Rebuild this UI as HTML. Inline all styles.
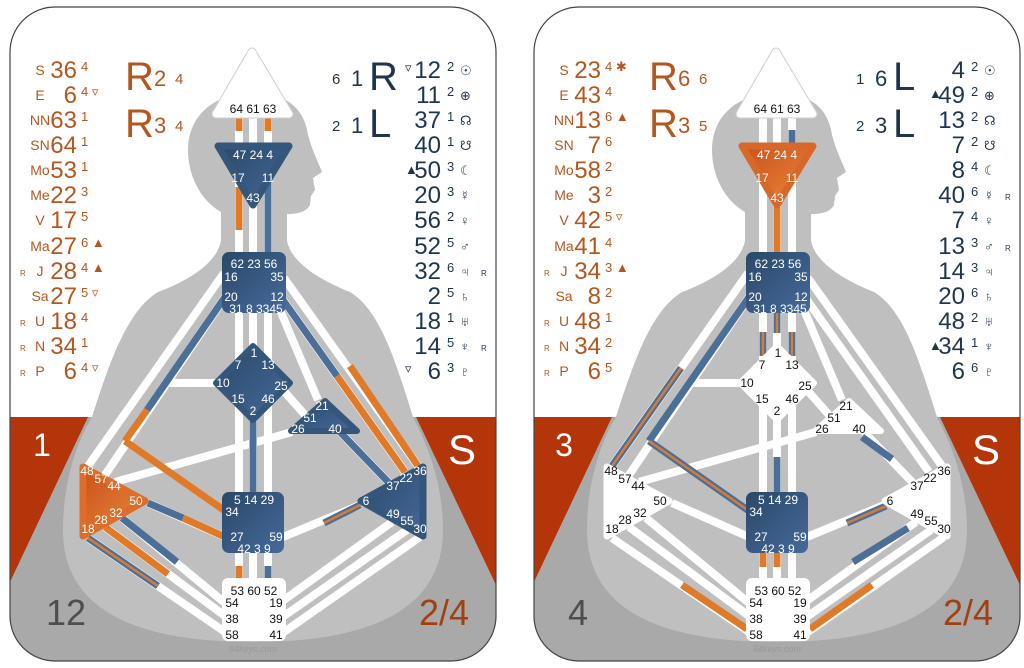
<!DOCTYPE html>
<html><head><meta charset="utf-8"><style>
html,body{margin:0;padding:0;background:#fff;}
svg{display:block;}
.w{stroke:#fff;stroke-width:8;fill:none}
.b{stroke:#4b6f97;stroke-width:7;fill:none}
.o{stroke:#e07a28;stroke-width:7;fill:none}
.so{stroke:#d97a35;stroke-width:2.5;fill:none}
.ct{font-family:"Liberation Sans","DejaVu Sans",sans-serif;font-size:12px;fill:#fff;text-anchor:middle}
.ck{font-family:"Liberation Sans","DejaVu Sans",sans-serif;font-size:12px;fill:#111;text-anchor:middle}
.lp{font-family:"Liberation Sans","DejaVu Sans",sans-serif;fill:#b5561e}
.rp{font-family:"Liberation Sans","DejaVu Sans",sans-serif;fill:#1e3550}
.lab{font-size:14px;text-anchor:middle}
.num{font-size:24px;text-anchor:end}
.sup{font-size:13px}
.tiny{font-size:8px}
.big{font-size:40px}
.mid{font-size:22px}
.sm{font-size:15px}
</style></head><body>
<svg width="1024" height="668" viewBox="0 0 1024 668" xmlns="http://www.w3.org/2000/svg">
<defs>
<linearGradient id="bl" x1="0" y1="0" x2="1" y2="1">
<stop offset="0" stop-color="#2a4868"/><stop offset="1" stop-color="#45699a"/></linearGradient>
<linearGradient id="og" x1="0" y1="0" x2="1" y2="1">
<stop offset="0" stop-color="#c9501a"/><stop offset="1" stop-color="#ea8a3c"/></linearGradient>
<clipPath id="card"><rect x="10" y="7" width="486" height="654" rx="45"/></clipPath>
</defs>

<g id="c1">
<g clip-path="url(#card)">
<rect x="10" y="7" width="486" height="654" fill="#fff"/>
<rect x="10" y="417" width="486" height="250" fill="#b5350b"/>
<path d="M88,417 L416,417 L496,585 L496,670 L10,670 L10,582 Z" fill="#a9a9a9"/>
<path d="M253,93 C290,93 305,112 308,135 C312,150 318,162 322,172 L313,178 L315,190 L311,196 L310,205 C306,213 295,214 287,214 L287,240 C290,262 320,280 350,292 C380,310 395,360 413,417 C425,440 443,480 443,530 C443,610 370,642 253,642 C136,642 63,610 63,530 C63,480 78,440 92,417 C110,360 128,310 158,292 C190,280 218,262 221,240 L221,212 C200,200 188,175 188,150 C188,115 215,93 253,93 Z" fill="#bfbfbf"/>
</g>
<rect x="10" y="7" width="486" height="654" rx="45" fill="none" stroke="#444" stroke-width="1.2"/>
</g>

<g id="c2" transform="translate(524,0)">
<g clip-path="url(#card)">
<rect x="10" y="7" width="486" height="654" fill="#fff"/>
<rect x="10" y="417" width="486" height="250" fill="#b5350b"/>
<path d="M88,417 L416,417 L496,585 L496,670 L10,670 L10,582 Z" fill="#a9a9a9"/>
<path d="M253,93 C290,93 305,112 308,135 C312,150 318,162 322,172 L313,178 L315,190 L311,196 L310,205 C306,213 295,214 287,214 L287,240 C290,262 320,280 350,292 C380,310 395,360 413,417 C425,440 443,480 443,530 C443,610 370,642 253,642 C136,642 63,610 63,530 C63,480 78,440 92,417 C110,360 128,310 158,292 C190,280 218,262 221,240 L221,212 C200,200 188,175 188,150 C188,115 215,93 253,93 Z" fill="#bfbfbf"/>
</g>
<rect x="10" y="7" width="486" height="654" rx="45" fill="none" stroke="#444" stroke-width="1.2"/>
</g>

<g id="wb">
<line class="w" x1="239" y1="117" x2="239" y2="580"/>
<line class="w" x1="253" y1="117" x2="253" y2="580"/>
<line class="w" x1="268" y1="117" x2="268" y2="580"/>
<line class="w" x1="224" y1="273" x2="88" y2="466"/>
<line class="w" x1="225" y1="297" x2="103" y2="478"/>
<line class="w" x1="168" y1="383" x2="215" y2="383"/>
<line class="w" x1="115" y1="482" x2="292" y2="432"/>
<line class="w" x1="148" y1="503" x2="225" y2="537"/>
<line class="w" x1="122" y1="518" x2="225" y2="603"/>
<line class="w" x1="105" y1="527" x2="225" y2="616"/>
<line class="w" x1="88" y1="538" x2="225" y2="632"/>
<line class="w" x1="284" y1="278" x2="418" y2="466"/>
<line class="w" x1="283" y1="300" x2="405" y2="472"/>
<line class="w" x1="280" y1="310" x2="318" y2="400"/>
<line class="w" x1="283" y1="390" x2="305" y2="415"/>
<line class="w" x1="340" y1="432" x2="392" y2="486"/>
<line class="w" x1="283" y1="537" x2="360" y2="505"/>
<line class="w" x1="392" y1="522" x2="284" y2="600"/>
<line class="w" x1="407" y1="530" x2="284" y2="616"/>
<line class="w" x1="420" y1="537" x2="284" y2="632"/>
</g>
<use href="#wb" transform="translate(524,0)"/>

<line class="o" x1="239" y1="117" x2="239" y2="131"/>
<line class="o" x1="268" y1="117" x2="268" y2="131"/>
<line class="o" x1="239" y1="187" x2="239" y2="230"/>
<line class="b" x1="268" y1="180" x2="268" y2="252"/>
<line class="b" x1="253" y1="415" x2="253" y2="494"/>
<line class="o" x1="239" y1="566" x2="239" y2="580"/>
<line class="b" x1="268" y1="566" x2="268" y2="580"/>
<line class="b" x1="225" y1="297" x2="147" y2="410"/>
<line class="o" x1="147" y1="410" x2="125" y2="441"/>
<line class="o" x1="125" y1="441" x2="225" y2="511"/>
<line class="b" x1="148" y1="503" x2="183" y2="518"/>
<line class="o" x1="183" y1="518" x2="225" y2="537"/>
<line class="b" x1="122" y1="518" x2="177" y2="562"/>
<line class="o" x1="105" y1="527" x2="168" y2="574"/>
<line class="b" x1="88" y1="538" x2="158" y2="586"/><line class="so" x1="88" y1="538" x2="158" y2="586"/>
<line class="o" x1="350" y1="366" x2="418" y2="466"/>
<line class="b" x1="283" y1="300" x2="337" y2="376"/>
<line class="o" x1="337" y1="376" x2="405" y2="472"/>
<line class="b" x1="340" y1="432" x2="392" y2="486"/>
<line class="b" x1="324" y1="523" x2="360" y2="505"/><line class="so" x1="324" y1="523" x2="360" y2="505"/>

<g transform="translate(524,0)">
<line class="b" x1="268" y1="130" x2="268" y2="143"/>
<line class="o" x1="253" y1="205" x2="253" y2="252"/>
<line class="b" x1="239" y1="332" x2="239" y2="356"/><line class="so" x1="239" y1="332" x2="239" y2="356"/>
<line class="b" x1="253" y1="313" x2="253" y2="333"/><line class="so" x1="253" y1="313" x2="253" y2="333"/>
<line class="b" x1="268" y1="332" x2="268" y2="356"/><line class="so" x1="268" y1="332" x2="268" y2="356"/>
<line class="b" x1="253" y1="457" x2="253" y2="494"/>
<line class="o" x1="239" y1="553" x2="239" y2="567"/>
<line class="o" x1="253" y1="553" x2="253" y2="567"/>
<line class="b" x1="157" y1="368" x2="88" y2="466"/><line class="so" x1="157" y1="368" x2="88" y2="466"/>
<line class="b" x1="225" y1="297" x2="125" y2="441"/>
<line class="b" x1="125" y1="441" x2="225" y2="511"/><line class="so" x1="125" y1="441" x2="225" y2="511"/>
<line class="b" x1="338" y1="437" x2="368" y2="459"/>
<line class="b" x1="323" y1="523" x2="362" y2="506"/><line class="so" x1="323" y1="523" x2="362" y2="506"/>
<line class="b" x1="384" y1="528" x2="329" y2="562"/>
<line class="o" x1="158" y1="585" x2="223" y2="629"/>
<line class="o" x1="348" y1="585" x2="286" y2="629"/>
</g>

<g stroke-linejoin="round">
<polygon points="252,52 289,114 216,114" fill="#fff" stroke="#cfcfcf" stroke-width="9"/>
<polygon points="252,52 289,114 216,114" fill="#fff" stroke="#fff" stroke-width="7"/>
<polygon points="218,146 289,146 253,205" fill="url(#bl)" stroke="#34567a" stroke-width="7"/>
<rect x="222" y="252" width="64" height="61" rx="7" fill="url(#bl)"/>
<polygon points="253,346 290,383 253,420 216,383" fill="url(#bl)" stroke="#34567a" stroke-width="6"/>
<polygon points="325,401 291,431 357,431" fill="url(#bl)" stroke="#34567a" stroke-width="6"/>
<polygon points="83,467 83,536 145,501" fill="url(#og)" stroke="#dc6d2a" stroke-width="7"/>
<polygon points="423,467 423,536 361,501" fill="url(#bl)" stroke="#34567a" stroke-width="7"/>
<rect x="222" y="492" width="62" height="61" rx="7" fill="url(#bl)"/>
<rect x="222" y="578" width="64" height="63" rx="6" fill="#fff"/>
</g>
<g transform="translate(524,0)" stroke-linejoin="round">
<polygon points="252,52 289,114 216,114" fill="#fff" stroke="#cfcfcf" stroke-width="9"/>
<polygon points="252,52 289,114 216,114" fill="#fff" stroke="#fff" stroke-width="7"/>
<polygon points="218,146 289,146 253,205" fill="url(#og)" stroke="#d8682a" stroke-width="7"/>
<rect x="222" y="252" width="64" height="61" rx="7" fill="url(#bl)"/>
<polygon points="253,346 290,383 253,420 216,383" fill="#fff" stroke="#fff" stroke-width="6"/>
<polygon points="325,401 291,431 357,431" fill="#fff" stroke="#fff" stroke-width="6"/>
<polygon points="83,467 83,536 145,501" fill="#fff" stroke="#fff" stroke-width="7"/>
<polygon points="423,467 423,536 361,501" fill="#fff" stroke="#fff" stroke-width="7"/>
<rect x="222" y="492" width="62" height="61" rx="7" fill="url(#bl)"/>
<rect x="222" y="578" width="64" height="63" rx="6" fill="#fff"/>
</g>

<g>
<text class="ck" x="253" y="113">64 61 63</text>
<text class="ct" x="253" y="159">47 24 4</text>
<text class="ct" x="238" y="182">17</text><text class="ct" x="268" y="182">11</text>
<text class="ct" x="253" y="202">43</text>
<text class="ct" x="254" y="268">62 23 56</text>
<text class="ct" x="231" y="281">16</text><text class="ct" x="277" y="281">35</text>
<text class="ct" x="231" y="301">20</text><text class="ct" x="277" y="301">12</text>
<text class="ct" x="256" y="313">31 8 3345</text>
<text class="ct" x="254" y="504">5 14 29</text>
<text class="ct" x="232" y="516">34</text>
<text class="ct" x="237" y="541">27</text><text class="ct" x="276" y="541">59</text>
<text class="ct" x="254" y="553">42 3 9</text>
<text class="ck" x="254" y="595">53 60 52</text>
<text class="ck" x="232" y="607">54</text><text class="ck" x="276" y="607">19</text>
<text class="ck" x="232" y="623">38</text><text class="ck" x="276" y="623">39</text>
<text class="ck" x="232" y="639">58</text><text class="ck" x="276" y="639">41</text>
<text x="253" y="652" font-family="Liberation Sans,sans-serif" font-size="9" font-style="italic" fill="#999" text-anchor="middle">64keys.com</text>
<text class="ct" x="254" y="357">1</text>
<text class="ct" x="238" y="369">7</text><text class="ct" x="268" y="369">13</text>
<text class="ct" x="223" y="387">10</text><text class="ct" x="281" y="390">25</text>
<text class="ct" x="238" y="403">15</text><text class="ct" x="268" y="403">46</text>
<text class="ct" x="253" y="415">2</text>
<text class="ct" x="322" y="410">21</text><text class="ct" x="310" y="422">51</text>
<text class="ct" x="298" y="433">26</text><text class="ct" x="335" y="433">40</text>
<text class="ct" x="87" y="475">48</text><text class="ct" x="101" y="483">57</text><text class="ct" x="114" y="490">44</text>
<text class="ct" x="136" y="505">50</text><text class="ct" x="116" y="517">32</text>
<text class="ct" x="101" y="524">28</text><text class="ct" x="88" y="533">18</text>
<text class="ct" x="420" y="475">36</text><text class="ct" x="406" y="482">22</text><text class="ct" x="393" y="490">37</text>
<text class="ct" x="366" y="505">6</text>
<text class="ct" x="393" y="518">49</text><text class="ct" x="407" y="525">55</text><text class="ct" x="420" y="533">30</text>
</g>
<g transform="translate(524,0)">
<text class="ck" x="253" y="113">64 61 63</text>
<text class="ct" x="253" y="159">47 24 4</text>
<text class="ct" x="238" y="182">17</text><text class="ct" x="268" y="182">11</text>
<text class="ct" x="253" y="202">43</text>
<text class="ct" x="254" y="268">62 23 56</text>
<text class="ct" x="231" y="281">16</text><text class="ct" x="277" y="281">35</text>
<text class="ct" x="231" y="301">20</text><text class="ct" x="277" y="301">12</text>
<text class="ct" x="256" y="313">31 8 3345</text>
<text class="ct" x="254" y="504">5 14 29</text>
<text class="ct" x="232" y="516">34</text>
<text class="ct" x="237" y="541">27</text><text class="ct" x="276" y="541">59</text>
<text class="ct" x="254" y="553">42 3 9</text>
<text class="ck" x="254" y="595">53 60 52</text>
<text class="ck" x="232" y="607">54</text><text class="ck" x="276" y="607">19</text>
<text class="ck" x="232" y="623">38</text><text class="ck" x="276" y="623">39</text>
<text class="ck" x="232" y="639">58</text><text class="ck" x="276" y="639">41</text>
<text x="253" y="652" font-family="Liberation Sans,sans-serif" font-size="9" font-style="italic" fill="#999" text-anchor="middle">64keys.com</text>
<text class="ck" x="254" y="357">1</text>
<text class="ck" x="238" y="369">7</text><text class="ck" x="268" y="369">13</text>
<text class="ck" x="223" y="387">10</text><text class="ck" x="281" y="390">25</text>
<text class="ck" x="238" y="403">15</text><text class="ck" x="268" y="403">46</text>
<text class="ck" x="253" y="415">2</text>
<text class="ck" x="322" y="410">21</text><text class="ck" x="310" y="422">51</text>
<text class="ck" x="298" y="433">26</text><text class="ck" x="335" y="433">40</text>
<text class="ck" x="87" y="475">48</text><text class="ck" x="101" y="483">57</text><text class="ck" x="114" y="490">44</text>
<text class="ck" x="136" y="505">50</text><text class="ck" x="116" y="517">32</text>
<text class="ck" x="101" y="524">28</text><text class="ck" x="88" y="533">18</text>
<text class="ck" x="420" y="475">36</text><text class="ck" x="406" y="482">22</text><text class="ck" x="393" y="490">37</text>
<text class="ck" x="366" y="505">6</text>
<text class="ck" x="393" y="518">49</text><text class="ck" x="407" y="525">55</text><text class="ck" x="420" y="533">30</text>
</g>

<g class="lp">
<text class="lab" x="40" y="75">S</text><text class="num" x="77" y="78">36</text><text class="sup" x="81" y="71">4</text>
<text class="lab" x="40" y="100">E</text><text class="num" x="77" y="103">6</text><text class="sup" x="81" y="96">4 ▿</text>
<text class="lab" x="40" y="125">NN</text><text class="num" x="77" y="128">63</text><text class="sup" x="81" y="121">1</text>
<text class="lab" x="40" y="150">SN</text><text class="num" x="77" y="153">64</text><text class="sup" x="81" y="146">1</text>
<text class="lab" x="40" y="175">Mo</text><text class="num" x="77" y="178">53</text><text class="sup" x="81" y="171">1</text>
<text class="lab" x="40" y="200">Me</text><text class="num" x="77" y="203">22</text><text class="sup" x="81" y="196">3</text>
<text class="lab" x="40" y="225">V</text><text class="num" x="77" y="228">17</text><text class="sup" x="81" y="221">5</text>
<text class="lab" x="40" y="251">Ma</text><text class="num" x="77" y="254">27</text><text class="sup" x="81" y="247">6 ▲</text>
<text class="tiny" x="20" y="276">R</text><text class="lab" x="40" y="276">J</text><text class="num" x="77" y="279">28</text><text class="sup" x="81" y="272">4 ▲</text>
<text class="lab" x="40" y="301">Sa</text><text class="num" x="77" y="304">27</text><text class="sup" x="81" y="297">5 ▿</text>
<text class="tiny" x="20" y="326">R</text><text class="lab" x="40" y="326">U</text><text class="num" x="77" y="329">18</text><text class="sup" x="81" y="322">4</text>
<text class="tiny" x="20" y="351">R</text><text class="lab" x="40" y="351">N</text><text class="num" x="77" y="354">34</text><text class="sup" x="81" y="347">1</text>
<text class="tiny" x="20" y="376">R</text><text class="lab" x="40" y="376">P</text><text class="num" x="77" y="379">6</text><text class="sup" x="81" y="372">4 ▿</text>
<text class="big" x="125" y="90">R</text><text class="mid" x="154" y="86">2</text><text class="sm" x="175" y="84">4</text>
<text class="big" x="125" y="137">R</text><text class="mid" x="154" y="133">3</text><text class="sm" x="175" y="131">4</text>
</g>
<g class="rp">
<text class="sm" x="332" y="84">6</text><text class="mid" x="351" y="86">1</text><text class="big" x="369" y="90">R</text>
<text class="sm" x="332" y="131">2</text><text class="mid" x="351" y="133">1</text><text class="big" x="369" y="137">L</text>
<text class="sup" x="405" y="72">▿</text><text class="num" x="441" y="78">12</text><text class="sup" x="447" y="71">2</text><text class="sup" x="460" y="75">☉</text>
<text class="num" x="441" y="103">11</text><text class="sup" x="447" y="96">2</text><text class="sup" x="460" y="100">⊕</text>
<text class="num" x="441" y="128">37</text><text class="sup" x="447" y="121">1</text><text class="sup" x="460" y="125">☊</text>
<text class="num" x="441" y="153">40</text><text class="sup" x="447" y="146">1</text><text class="sup" x="460" y="150">☋</text>
<text class="sup" x="405" y="174">▲</text><text class="num" x="441" y="178">50</text><text class="sup" x="447" y="171">3</text><text class="sup" x="460" y="175">☾</text>
<text class="num" x="441" y="203">20</text><text class="sup" x="447" y="196">3</text><text class="sup" x="460" y="200">☿</text>
<text class="num" x="441" y="228">56</text><text class="sup" x="447" y="221">2</text><text class="sup" x="460" y="225">♀</text>
<text class="num" x="441" y="254">52</text><text class="sup" x="447" y="247">5</text><text class="sup" x="460" y="251">♂</text>
<text class="num" x="441" y="279">32</text><text class="sup" x="447" y="272">6</text><text class="sup" x="460" y="276">♃</text><text class="tiny" x="481" y="276">R</text>
<text class="num" x="441" y="304">2</text><text class="sup" x="447" y="297">5</text><text class="sup" x="460" y="301">♄</text>
<text class="num" x="441" y="329">18</text><text class="sup" x="447" y="322">1</text><text class="sup" x="460" y="326">♅</text>
<text class="num" x="441" y="354">14</text><text class="sup" x="447" y="347">5</text><text class="sup" x="460" y="351">♆</text><text class="tiny" x="481" y="351">R</text>
<text class="sup" x="405" y="373">▿</text><text class="num" x="441" y="379">6</text><text class="sup" x="447" y="372">3</text><text class="sup" x="460" y="376">♇</text>
</g>
<text x="42" y="456" font-family="Liberation Sans,DejaVu Sans,sans-serif" font-size="32" fill="#fff" text-anchor="middle">1</text>
<text x="462" y="464" font-family="Liberation Sans,DejaVu Sans,sans-serif" font-size="42" fill="#fff" text-anchor="middle">S</text>
<text x="66" y="625" font-family="Liberation Sans,DejaVu Sans,sans-serif" font-size="36" fill="#4e4e4e" text-anchor="middle">12</text>
<text x="444" y="625" font-family="Liberation Sans,DejaVu Sans,sans-serif" font-size="36" fill="#a3400f" text-anchor="middle">2/4</text>

<g transform="translate(524,0)">
<g class="lp">
<text class="lab" x="40" y="75">S</text><text class="num" x="77" y="78">23</text><text class="sup" x="81" y="71">4 ✱</text>
<text class="lab" x="40" y="100">E</text><text class="num" x="77" y="103">43</text><text class="sup" x="81" y="96">4</text>
<text class="lab" x="40" y="125">NN</text><text class="num" x="77" y="128">13</text><text class="sup" x="81" y="121">6 ▲</text>
<text class="lab" x="40" y="150">SN</text><text class="num" x="77" y="153">7</text><text class="sup" x="81" y="146">6</text>
<text class="lab" x="40" y="175">Mo</text><text class="num" x="77" y="178">58</text><text class="sup" x="81" y="171">2</text>
<text class="lab" x="40" y="200">Me</text><text class="num" x="77" y="203">3</text><text class="sup" x="81" y="196">2</text>
<text class="lab" x="40" y="225">V</text><text class="num" x="77" y="228">42</text><text class="sup" x="81" y="221">5 ▿</text>
<text class="lab" x="40" y="251">Ma</text><text class="num" x="77" y="254">41</text><text class="sup" x="81" y="247">4</text>
<text class="tiny" x="20" y="276">R</text><text class="lab" x="40" y="276">J</text><text class="num" x="77" y="279">34</text><text class="sup" x="81" y="272">3 ▲</text>
<text class="lab" x="40" y="301">Sa</text><text class="num" x="77" y="304">8</text><text class="sup" x="81" y="297">2</text>
<text class="tiny" x="20" y="326">R</text><text class="lab" x="40" y="326">U</text><text class="num" x="77" y="329">48</text><text class="sup" x="81" y="322">1</text>
<text class="tiny" x="20" y="351">R</text><text class="lab" x="40" y="351">N</text><text class="num" x="77" y="354">34</text><text class="sup" x="81" y="347">2</text>
<text class="tiny" x="20" y="376">R</text><text class="lab" x="40" y="376">P</text><text class="num" x="77" y="379">6</text><text class="sup" x="81" y="372">5</text>
<text class="big" x="125" y="90">R</text><text class="mid" x="154" y="86">6</text><text class="sm" x="175" y="84">6</text>
<text class="big" x="125" y="137">R</text><text class="mid" x="154" y="133">3</text><text class="sm" x="175" y="131">5</text>
</g>
<g class="rp">
<text class="sm" x="332" y="84">1</text><text class="mid" x="351" y="86">6</text><text class="big" x="369" y="90">L</text>
<text class="sm" x="332" y="131">2</text><text class="mid" x="351" y="133">3</text><text class="big" x="369" y="137">L</text>
<text class="num" x="441" y="78">4</text><text class="sup" x="447" y="71">2</text><text class="sup" x="460" y="75">☉</text>
<text class="sup" x="405" y="98">▲</text><text class="num" x="441" y="103">49</text><text class="sup" x="447" y="96">2</text><text class="sup" x="460" y="100">⊕</text>
<text class="num" x="441" y="128">13</text><text class="sup" x="447" y="121">2</text><text class="sup" x="460" y="125">☊</text>
<text class="num" x="441" y="153">7</text><text class="sup" x="447" y="146">2</text><text class="sup" x="460" y="150">☋</text>
<text class="num" x="441" y="178">8</text><text class="sup" x="447" y="171">4</text><text class="sup" x="460" y="175">☾</text>
<text class="num" x="441" y="203">40</text><text class="sup" x="447" y="196">6</text><text class="sup" x="460" y="200">☿</text><text class="tiny" x="481" y="200">R</text>
<text class="num" x="441" y="228">7</text><text class="sup" x="447" y="221">4</text><text class="sup" x="460" y="225">♀</text>
<text class="num" x="441" y="254">13</text><text class="sup" x="447" y="247">3</text><text class="sup" x="460" y="251">♂</text><text class="tiny" x="481" y="251">R</text>
<text class="num" x="441" y="279">14</text><text class="sup" x="447" y="272">3</text><text class="sup" x="460" y="276">♃</text>
<text class="num" x="441" y="304">20</text><text class="sup" x="447" y="297">6</text><text class="sup" x="460" y="301">♄</text>
<text class="num" x="441" y="329">48</text><text class="sup" x="447" y="322">2</text><text class="sup" x="460" y="326">♅</text>
<text class="sup" x="405" y="350">▲</text><text class="num" x="441" y="354">34</text><text class="sup" x="447" y="347">1</text><text class="sup" x="460" y="351">♆</text>
<text class="num" x="441" y="379">6</text><text class="sup" x="447" y="372">6</text><text class="sup" x="460" y="376">♇</text>
</g>
<text x="40" y="456" font-family="Liberation Sans,DejaVu Sans,sans-serif" font-size="32" fill="#fff" text-anchor="middle">3</text>
<text x="462" y="464" font-family="Liberation Sans,DejaVu Sans,sans-serif" font-size="42" fill="#fff" text-anchor="middle">S</text>
<text x="54" y="625" font-family="Liberation Sans,DejaVu Sans,sans-serif" font-size="36" fill="#4e4e4e" text-anchor="middle">4</text>
<text x="444" y="625" font-family="Liberation Sans,DejaVu Sans,sans-serif" font-size="36" fill="#a3400f" text-anchor="middle">2/4</text>
</g>
</svg>
</body></html>
